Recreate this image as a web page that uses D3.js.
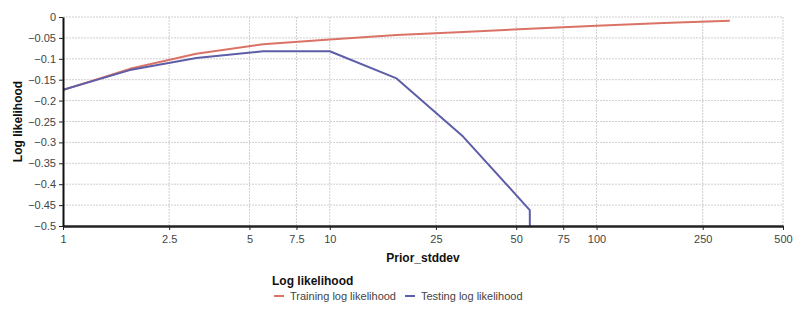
<!DOCTYPE html>
<html>
<head>
<meta charset="utf-8">
<script src="https://cdn.jsdelivr.net/npm/d3@7"></script>
<style>
  body { margin: 0; background: #fff; }
  text { font-family: "Liberation Sans", Arial, sans-serif; }
</style>
</head>
<body>
<script>
// Data
const priorStddev = [1, 1.78, 3.16, 5.62, 10, 17.8, 31.6, 56.2, 100, 178, 316]
const training = [-0.175, -0.124, -0.088, -0.065, -0.054, -0.043, -0.036, -0.028, -0.021, -0.0145, -0.009]
const testing = [-0.174, -0.127, -0.098, -0.082, -0.082, -0.147, -0.286, -0.462, -30]
const xTicks = [1, 2.5, 5, 7.5, 10, 25, 50, 75, 100, 250, 500]
const yTicks = [0, -0.05, -0.1, -0.15, -0.2, -0.25, -0.3, -0.35, -0.4, -0.45, -0.5]
const seriesNames = ['Training log likelihood', 'Testing log likelihood']
const colors = ['#da7266', '#5d5ea8']

const margin = { top: 17, right: 17, bottom: 83, left: 63 }
const width = 800 - margin.left - margin.right
const height = 309 - margin.top - margin.bottom

const svg = d3.select('body').append('svg')
    .attr('width', 800)
    .attr('height', 309)
const g = svg.append('g')
    .attr('transform', `translate(${margin.left},${margin.top})`)

const x = d3.scaleLog().domain([1, 500]).range([0, width])
const y = d3.scaleLinear().domain([-0.5, 0]).range([height, 0])

// Grid
g.append('g').selectAll('line').data(xTicks.slice(1)).enter().append('line')
    .attr('x1', d => x(d)).attr('x2', d => x(d))
    .attr('y1', 0).attr('y2', height)
    .attr('stroke', '#cfcfcf').attr('stroke-dasharray', '2,1')
g.append('g').selectAll('line').data(yTicks.slice(0, -1)).enter().append('line')
    .attr('x1', 0).attr('x2', width)
    .attr('y1', d => y(d)).attr('y2', d => y(d))
    .attr('stroke', '#cfcfcf').attr('stroke-dasharray', '2,1')

// Clip
g.append('clipPath').attr('id', 'clip')
    .append('rect').attr('x', 0).attr('y', -2).attr('width', width).attr('height', height + 2)

const line = d3.line()
    .x(d => x(d[0]))
    .y(d => y(d[1]))

const series = [training, testing]
series.forEach((vals, i) => {
    g.append('path')
        .datum(vals.map((v, j) => [priorStddev[j], v]))
        .attr('clip-path', 'url(#clip)')
        .attr('fill', 'none')
        .attr('stroke', colors[i])
        .attr('stroke-width', 2)
        .attr('stroke-linejoin', 'round')
        .attr('d', line)
})

// Axes
const xAxis = g.append('g')
    .attr('transform', `translate(0,${height})`)
    .call(d3.axisBottom(x).tickValues(xTicks).tickFormat(d3.format('')).tickSize(4).tickSizeOuter(0))
const yAxis = g.append('g')
    .call(d3.axisLeft(y).tickValues(yTicks).tickFormat(d => d === 0 ? '0' : d3.format('')(d)).tickSize(4).tickSizeOuter(0))

xAxis.select('.domain').attr('stroke', '#222').attr('stroke-width', 2.5)
yAxis.select('.domain').attr('stroke', '#111').attr('stroke-width', 2)
;[xAxis, yAxis].forEach(a => {
    a.selectAll('.tick line').attr('stroke', '#222')
    a.selectAll('.tick text')
        .attr('fill', '#444')
        .style('font-size', '11px')
        .style('font-family', '"Liberation Sans", Arial, sans-serif')
})
xAxis.selectAll('.tick text').attr('dy', '0.95em')

// Axis titles
svg.append('text')
    .attr('x', margin.left + width / 2)
    .attr('y', 262)
    .attr('text-anchor', 'middle')
    .style('font-size', '12px')
    .style('font-weight', 'bold')
    .attr('fill', '#111')
    .text('Prior_stddev')
svg.append('text')
    .attr('transform', `translate(22,${margin.top + height / 2}) rotate(-90)`)
    .attr('text-anchor', 'middle')
    .style('font-size', '12px')
    .style('font-weight', 'bold')
    .attr('fill', '#111')
    .text('Log likelihood')

// Legend
svg.append('text')
    .attr('x', 272)
    .attr('y', 285)
    .style('font-size', '12px')
    .style('font-weight', 'bold')
    .attr('fill', '#111')
    .text('Log likelihood')
const legendX = [274, 405]
seriesNames.forEach((name, i) => {
    const lg = svg.append('g').attr('transform', `translate(${legendX[i]},296)`)
    lg.append('line')
        .attr('x1', 0).attr('x2', 10)
        .attr('stroke', colors[i]).attr('stroke-width', 2)
    lg.append('text')
        .attr('x', 16).attr('y', 4)
        .style('font-size', '11px')
        .attr('fill', '#444')
        .text(name)
})
</script>
</body>
</html>
